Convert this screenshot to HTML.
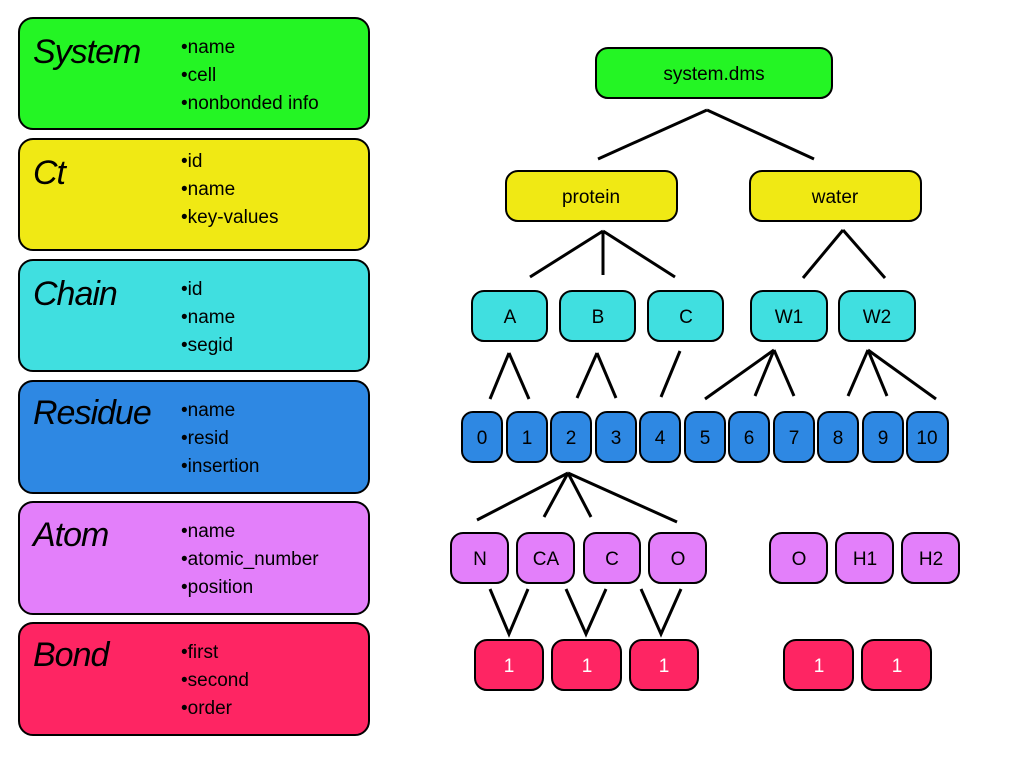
<!DOCTYPE html>
<html><head><meta charset="utf-8"><style>
html,body{margin:0;padding:0;background:#fff;}
svg{display:block;font-family:"Liberation Sans",sans-serif;}
.t{font-style:italic;font-size:34px;letter-spacing:-1px;}
.b{font-size:19px;}
.n{font-size:19px;text-anchor:middle;}
.w{fill:#fff;}
line{stroke:#000;stroke-width:3;}
rect{stroke:#000;stroke-width:2;}
</style></head><body>
<svg width="1024" height="768" viewBox="0 0 1024 768">
<!-- left legend -->
<rect x="19" y="18" width="350" height="111" rx="14" fill="#24f524"/>
<rect x="19" y="139" width="350" height="111" rx="14" fill="#f0e914"/>
<rect x="19" y="260" width="350" height="111" rx="14" fill="#40dfe0"/>
<rect x="19" y="381" width="350" height="112" rx="14" fill="#2e88e3"/>
<rect x="19" y="502" width="350" height="112" rx="14" fill="#e37ffa"/>
<rect x="19" y="623" width="350" height="112" rx="14" fill="#fe2563"/>
<text class="t" x="33" y="63">System</text>
<text class="t" x="33" y="184">Ct</text>
<text class="t" x="33" y="305">Chain</text>
<text class="t" x="33" y="424">Residue</text>
<text class="t" x="33" y="546">Atom</text>
<text class="t" x="33" y="666">Bond</text>
<g class="b">
<text x="181" y="53">•name</text><text x="181" y="81">•cell</text><text x="181" y="109">•nonbonded info</text>
<text x="181" y="167">•id</text><text x="181" y="195">•name</text><text x="181" y="223">•key-values</text>
<text x="181" y="295">•id</text><text x="181" y="323">•name</text><text x="181" y="351">•segid</text>
<text x="181" y="416">•name</text><text x="181" y="444">•resid</text><text x="181" y="472">•insertion</text>
<text x="181" y="537">•name</text><text x="181" y="565">•atomic_number</text><text x="181" y="593">•position</text>
<text x="181" y="658">•first</text><text x="181" y="686">•second</text><text x="181" y="714">•order</text>
</g>
<!-- tree lines -->
<line x1="707" y1="110" x2="598" y2="159"/><line x1="707" y1="110" x2="814" y2="159"/>
<line x1="603" y1="231" x2="530" y2="277"/><line x1="603" y1="231" x2="603" y2="275"/><line x1="603" y1="231" x2="675" y2="277"/>
<line x1="843" y1="230" x2="803" y2="278"/><line x1="843" y1="230" x2="885" y2="278"/>
<line x1="509" y1="353" x2="490" y2="399"/><line x1="509" y1="353" x2="529" y2="399"/>
<line x1="597" y1="353" x2="577" y2="398"/><line x1="597" y1="353" x2="616" y2="398"/>
<line x1="680" y1="351" x2="661" y2="397"/>
<line x1="774" y1="350" x2="705" y2="399"/><line x1="774" y1="350" x2="755" y2="396"/><line x1="774" y1="350" x2="794" y2="396"/>
<line x1="868" y1="350" x2="848" y2="396"/><line x1="868" y1="350" x2="887" y2="396"/><line x1="868" y1="350" x2="936" y2="399"/>
<line x1="568" y1="473" x2="477" y2="520"/><line x1="568" y1="473" x2="544" y2="517"/><line x1="568" y1="473" x2="591" y2="517"/><line x1="568" y1="473" x2="677" y2="522"/>
<polyline points="490,589 509,634 528,589" fill="none" stroke="#000" stroke-width="3"/>
<polyline points="566,589 586,634 606,589" fill="none" stroke="#000" stroke-width="3"/>
<polyline points="641,589 661,634 681,589" fill="none" stroke="#000" stroke-width="3"/>
<!-- nodes -->
<rect x="596" y="48" width="236" height="50" rx="12" fill="#24f524"/><text class="n" x="714" y="80">system.dms</text>
<rect x="506" y="171" width="171" height="50" rx="12" fill="#f0e914"/><text class="n" x="591" y="203">protein</text>
<rect x="750" y="171" width="171" height="50" rx="12" fill="#f0e914"/><text class="n" x="835" y="203">water</text>
<g fill="#40dfe0">
<rect x="472" y="291" width="75" height="50" rx="12"/><rect x="560" y="291" width="75" height="50" rx="12"/><rect x="648" y="291" width="75" height="50" rx="12"/><rect x="751" y="291" width="76" height="50" rx="12"/><rect x="839" y="291" width="76" height="50" rx="12"/>
</g>
<text class="n" x="510" y="323">A</text><text class="n" x="598" y="323">B</text><text class="n" x="686" y="323">C</text><text class="n" x="789" y="323">W1</text><text class="n" x="877" y="323">W2</text>
<g fill="#2e88e3">
<rect x="462" y="412" width="40" height="50" rx="11"/><rect x="507" y="412" width="40" height="50" rx="11"/><rect x="551" y="412" width="40" height="50" rx="11"/><rect x="596" y="412" width="40" height="50" rx="11"/><rect x="640" y="412" width="40" height="50" rx="11"/><rect x="685" y="412" width="40" height="50" rx="11"/><rect x="729" y="412" width="40" height="50" rx="11"/><rect x="774" y="412" width="40" height="50" rx="11"/><rect x="818" y="412" width="40" height="50" rx="11"/><rect x="863" y="412" width="40" height="50" rx="11"/><rect x="907" y="412" width="41" height="50" rx="11"/>
</g>
<g class="n"><text x="482" y="444">0</text><text x="527" y="444">1</text><text x="571" y="444">2</text><text x="616" y="444">3</text><text x="660" y="444">4</text><text x="705" y="444">5</text><text x="749" y="444">6</text><text x="794" y="444">7</text><text x="838" y="444">8</text><text x="883" y="444">9</text><text x="927" y="444">10</text></g>
<g fill="#e37ffa">
<rect x="451" y="533" width="57" height="50" rx="12"/><rect x="517" y="533" width="57" height="50" rx="12"/><rect x="584" y="533" width="56" height="50" rx="12"/><rect x="649" y="533" width="57" height="50" rx="12"/><rect x="770" y="533" width="57" height="50" rx="12"/><rect x="836" y="533" width="57" height="50" rx="12"/><rect x="902" y="533" width="57" height="50" rx="12"/>
</g>
<g class="n"><text x="480" y="565">N</text><text x="546" y="565">CA</text><text x="612" y="565">C</text><text x="678" y="565">O</text><text x="799" y="565">O</text><text x="865" y="565">H1</text><text x="931" y="565">H2</text></g>
<g fill="#fe2563">
<rect x="475" y="640" width="68" height="50" rx="12"/><rect x="552" y="640" width="69" height="50" rx="12"/><rect x="630" y="640" width="68" height="50" rx="12"/><rect x="784" y="640" width="69" height="50" rx="12"/><rect x="862" y="640" width="69" height="50" rx="12"/>
</g>
<g class="n w"><text x="509" y="672">1</text><text x="587" y="672">1</text><text x="664" y="672">1</text><text x="819" y="672">1</text><text x="897" y="672">1</text></g>
</svg>
</body></html>
